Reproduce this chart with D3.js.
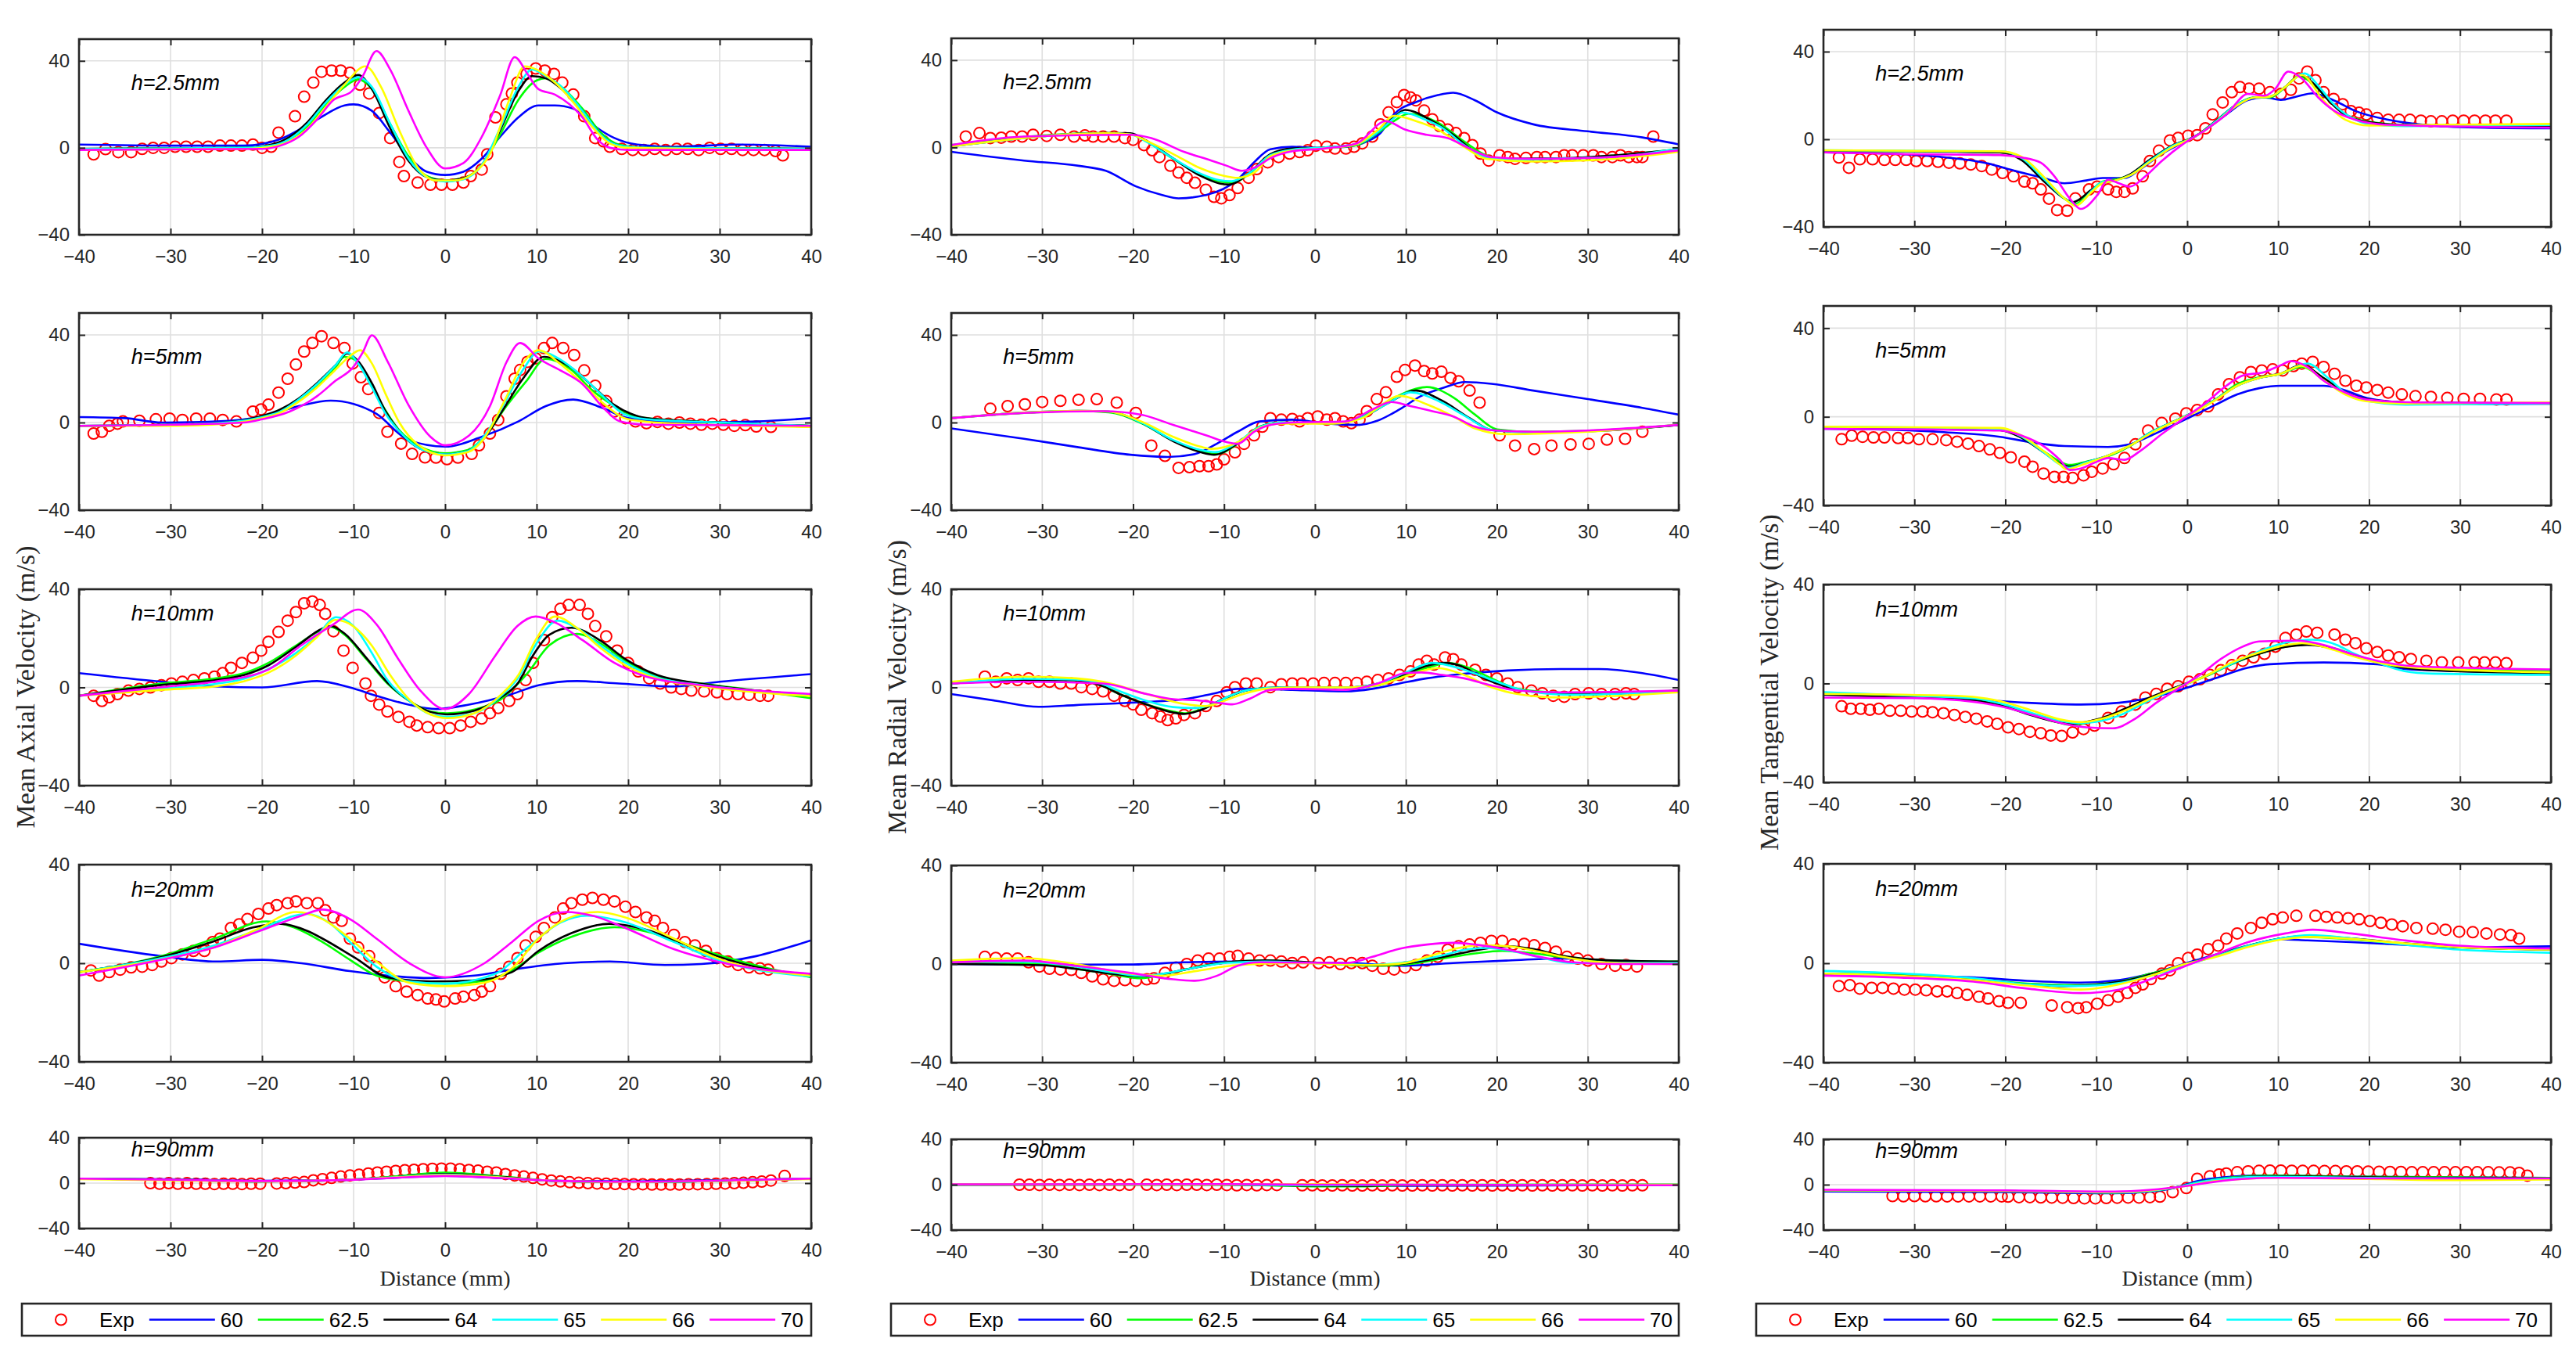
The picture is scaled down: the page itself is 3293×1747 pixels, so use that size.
<!DOCTYPE html>
<html>
<head>
<meta charset="utf-8">
<script src="https://cdn.jsdelivr.net/npm/d3@7"></script>
<style>
  body { margin: 0; background: #fff; }
  svg { display: block; }
</style>
</head>
<body>
<script>
// ---------- labels / ticks ----------
var seriesNames = ['60', '62.5', '64', '65', '66', '70'];
var seriesColors = ['#0000ff', '#00ff00', '#000000', '#00ffff', '#ffff00', '#ff00ff'];
var heightLabels = ['h=2.5mm', 'h=5mm', 'h=10mm', 'h=20mm', 'h=90mm'];
var yTitles = ['Mean Axial Velocity (m/s)', 'Mean Radial Velocity (m/s)', 'Mean Tangential Velocity (m/s)'];
var xTitle = 'Distance (mm)';
var xTicks = [-40, -30, -20, -10, 0, 10, 20, 30, 40];
var yTicks = [-40, 0, 40];
var yMax = [50, 50, 40, 40, 40];

// ---------- Axial ----------
var expAx1 = [[-38.4,-3],[-37.1,-0.6],[-35.7,-2],[-34.3,-2],[-33.1,-0.5],[-31.9,0],[-30.7,0],[-29.5,0.5],[-28.3,0.5],[-27.1,0.5],[-25.9,0.5],[-24.6,1],[-23.4,1],[-22.2,1],[-21,1.5],[-20,0],[-19,0.5],[-18.2,7],[-16.4,14.5],[-15.4,23.5],[-14.4,30],[-13.5,35],[-12.4,35.5],[-11.4,35.5],[-10.4,34.5],[-9.3,29],[-8.3,25],[-7.2,16],[-6,4.5],[-5,-6.5],[-4.5,-13],[-3,-16],[-1.6,-17],[-0.4,-17],[0.8,-17],[2,-16],[2.8,-13],[4,-10],[4.6,-3],[5.5,14],[6.7,20],[7.3,25],[7.9,30],[8.9,34],[9.9,36.5],[10.9,35.5],[11.9,34],[12.8,30],[14,24.5],[15.2,14.5],[16.4,4.5],[17.3,3],[18,0.5],[19.3,-0.5],[20.5,-1],[21.7,-1],[22.9,-0.5],[24.1,-1],[25.3,-0.5],[26.5,-0.5],[27.7,-1],[28.9,0],[30.1,-0.5],[31.3,-0.5],[32.5,-1],[33.7,-1],[34.9,-1],[36.1,-1.5],[36.9,-3.5]];
var simAx1 = [
  [[-40,1.5],[-30,1],[-22,1],[-18,4],[-14,13],[-11,19.5],[-10,20],[-8,17],[-6,7],[-4,-4],[-2,-11],[0,-12.5],[2,-11],[4,-5],[6,5],[8,14],[10.2,19.5],[12,19.5],[14,18],[16,11],[18.5,4.5],[21,1.5],[25,0.5],[32,1.5],[40,0.5]],
  [[-40,-0.5],[-22,0],[-19,1],[-17,4],[-15,10],[-13,20],[-11,28],[-9.5,31.5],[-8,27],[-6,11],[-4,-4],[-2,-13],[0,-15],[2,-14],[4,-8],[6,6],[8,22],[10,31],[11,32],[13,27],[15,18],[17,7],[19,1.5],[22,0],[40,-0.5]],
  [[-40,-0.5],[-22,0],[-19,1.5],[-17,5],[-15,12],[-13,22],[-11,30],[-9.5,33.5],[-8,27],[-6,9],[-4,-6],[-2,-13.5],[0,-15],[2,-14],[4,-8],[6,8],[8,26],[9.5,33],[11,32],[13,26],[15,17],[17,6],[19,1],[22,0],[40,-0.5]],
  [[-40,-0.5],[-22,0],[-19,1],[-17,4],[-15,11],[-13,21],[-11,29],[-9.5,32.5],[-8,28],[-6,11],[-4,-5],[-2,-13.5],[0,-15.5],[2,-14.5],[4,-8],[6,9],[8,28],[9.5,36],[11,33],[13,27],[15,17],[17,6],[19,1],[22,0],[40,-0.5]],
  [[-40,-1],[-22,-0.5],[-19,0.5],[-17,3],[-15,9],[-13,19],[-11,29],[-8.7,37.5],[-7,28],[-5,8],[-3,-9],[-1,-15],[1,-15],[3,-12],[5,-2],[7,22],[8.7,37.5],[10,36],[12,30],[14,21],[16,10],[18,2],[20,0],[40,-1]],
  [[-40,-1],[-20,-0.5],[-18,1],[-16,5],[-14,13],[-12.2,22],[-10.2,26],[-9,33],[-7.5,44.5],[-6,36],[-4,17],[-2,0],[0,-9.5],[2,-7],[4,5],[6,24],[7.6,41.7],[9,34],[10.2,27],[12,24.5],[15,14],[16.7,3.6],[18,0],[20,-1],[40,-1]]
];

var expAx2 = [[-38.4,-5],[-37.5,-4.2],[-36.7,-1.5],[-35.8,-0.5],[-35.2,0.5],[-33.4,0.8],[-31.6,1.5],[-30.1,1.8],[-28.7,1.2],[-27.2,1.8],[-25.7,1.8],[-24.3,1.2],[-22.8,0.5],[-21,5],[-20.1,6],[-19.3,8.2],[-18.2,13.7],[-17.2,20],[-16.3,26.5],[-15.4,32.4],[-14.5,36.3],[-13.5,39.4],[-12.2,36.3],[-11,34],[-10.1,27],[-9.2,20.7],[-8.4,15.3],[-7.2,4.4],[-6.3,-4.2],[-4.8,-9.6],[-3.6,-14.3],[-2.2,-15.9],[-1,-16],[0.2,-16.7],[1.4,-16],[2.9,-14.3],[3.7,-10.4],[4.9,-5],[5.8,1.2],[6.7,12],[7.6,20],[8.2,24],[9,27.7],[9.9,29.3],[10.8,34],[11.7,36.3],[12.9,34],[14.1,30.8],[15.2,23.8],[16.4,16.8],[17.6,9.8],[18.5,5.1],[19.7,2],[20.8,0.5],[22,-0.3],[23.2,0.3],[24.4,-0.5],[25.6,0],[26.8,-0.5],[28,-1],[29.2,-0.5],[30.4,-1],[31.6,-1.5],[32.8,-1.2],[34,-1.8],[35.6,-2]];
var simAx2 = [
  [[-40,2.5],[-35,2],[-31,0],[-25,0.5],[-20,2.8],[-16,7.5],[-12.5,10],[-10,8.5],[-7.5,4],[-4,-8],[0,-11],[4,-6.5],[8,0.5],[11,7.5],[14,10.5],[17,7],[20,2],[24,0.5],[28,0],[34,0.5],[40,2]],
  [[-40,-1.5],[-30,-1],[-24,0],[-20,2.5],[-18,5],[-16,10],[-14,17],[-12,25],[-11,30],[-10,29],[-8.5,21],[-7,9],[-5,-3.5],[-2.7,-11],[0,-14],[2.5,-12.5],[4.3,-6.5],[6.7,7.5],[8.8,18.5],[11,29],[13.8,24],[16,15],[18.5,7.5],[20.3,3.5],[22,2],[30,0],[40,-1.5]],
  [[-40,-1.5],[-30,-1],[-24,0],[-20,3],[-18,6],[-16,11],[-14,18],[-12,26],[-10.7,31.5],[-9.5,28],[-8,18],[-6.5,5],[-5,-4],[-2.7,-12],[0,-14.5],[2.5,-13],[4.3,-7],[6.5,7],[8.5,20],[10.8,30],[13.8,25],[16,17],[18.5,8],[20.3,4],[22,2],[30,0],[40,-1.5]],
  [[-40,-1.5],[-30,-1],[-24,0],[-20,2.5],[-18,5],[-16,10.5],[-14,17.5],[-12,26],[-10.7,32],[-9.5,27],[-8,16],[-6.5,4],[-5,-4],[-2.7,-12],[0,-14.5],[2.5,-13],[4.3,-6],[6.5,9],[8.5,24],[10.3,32.5],[12.5,29],[15,21],[17.5,11],[19.5,4],[22,1.5],[30,0],[40,-1.5]],
  [[-40,-1.5],[-30,-1.5],[-24,-0.5],[-20,2],[-18,4.5],[-16,9.5],[-14,16],[-12,24],[-10.5,30],[-9.3,33],[-8,27],[-6.5,13],[-5,0],[-3,-10],[0,-15],[2.5,-13.5],[4.3,-7],[6.5,10],[8.5,27],[10.2,33],[12.5,27],[15,18],[17.5,8],[20,1.5],[25,-0.5],[40,-2]],
  [[-40,-1.5],[-30,-1],[-22,0],[-20,1.5],[-17,5],[-14,12],[-12,19],[-10,25.5],[-9,32],[-8,39.8],[-6.3,28],[-4,8],[-1.6,-6.5],[0,-10.4],[2.6,-6],[4.9,7.5],[6.7,27.5],[8.2,36.3],[10.2,29.3],[12.6,23.8],[15,17.6],[17.3,6.7],[19.1,0.5],[22,-1],[40,-1.5]]
];

var expAx3 = [[-38.4,-3.4],[-37.5,-5.5],[-36.7,-4],[-35.8,-2.7],[-34.6,-1.3],[-33.4,-0.6],[-32.2,0],[-31,0.9],[-29.9,1.6],[-28.7,2.3],[-27.5,3],[-26.3,3.7],[-25.2,4.4],[-24.3,5.8],[-23.4,8],[-22.2,10],[-21,12.1],[-20.1,15],[-19.3,18.6],[-18.2,22.6],[-17.2,27.2],[-16.3,30.7],[-15.4,34.3],[-14.5,35],[-13.7,33.6],[-13.1,30],[-12.2,22.9],[-11.1,15],[-10.1,8],[-8.7,1.6],[-8.1,-3.4],[-7.2,-7],[-6.3,-9.8],[-5.1,-12],[-3.9,-14],[-3.1,-15.5],[-1.9,-16.2],[-0.7,-16.6],[0.5,-16.6],[1.7,-15.5],[2.8,-14],[4,-12.7],[4.9,-10.5],[5.8,-8.4],[7,-5.5],[7.9,-2.7],[8.8,3],[9.6,10],[10.8,19.3],[11.7,28.6],[12.6,32],[13.5,33.6],[14.7,33.6],[15.6,30],[16.4,25],[17.6,20.8],[18.8,15],[20,10],[21.1,6.5],[22.3,3.7],[23.5,1.6],[24.7,0],[25.8,-0.6],[26.9,-1.3],[28.3,-1.6],[29.7,-2],[30.8,-2.7],[32,-2.7],[33.2,-3],[34.4,-3.4],[35.3,-3.4]];
var simAx3 = [
  [[-40,5.8],[-31,2.3],[-25,0.4],[-20,0],[-14,2.6],[-10.4,0],[-7.5,-3.4],[-4,-7],[-1,-8.8],[2.6,-7],[7.3,-2.7],[10.2,0.9],[14.4,2.6],[19,1.6],[25,0.4],[30,2.3],[40,5.4]],
  [[-40,-3.4],[-31,1.6],[-25,3.7],[-22,5.8],[-19.3,10],[-16.3,17],[-13.4,23.6],[-12.5,24.6],[-11,21.5],[-8.6,11.5],[-6.3,1.6],[-3.9,-5.5],[-1.6,-9.8],[0.2,-10.5],[3.2,-9],[6.1,-4.8],[9,5.8],[11.4,17.2],[14.4,21.8],[17.3,17.2],[19.7,10.8],[23.2,4.4],[28,1.6],[34,-1.3],[40,-4.4]],
  [[-40,-3.4],[-31,1],[-25,3],[-22,5],[-19.3,9],[-16.3,16.5],[-13.4,24],[-12.5,25],[-11,22],[-8.6,12],[-6.3,2],[-3.9,-5.5],[-1.6,-10],[0.2,-11],[3.2,-9.5],[6.1,-4],[8,2],[9.6,13],[11.4,21.5],[13.8,24.3],[17,19],[19.7,11.5],[23.2,5],[28,1.5],[34,-1.3],[40,-3]],
  [[-40,-3.4],[-31,-0.5],[-25,1.5],[-22,3.5],[-19.3,7.5],[-16.3,14],[-14,21],[-11.9,28.6],[-10,25],[-8,14],[-6.3,3],[-3.9,-5.5],[-1.6,-11],[0.2,-12],[3.2,-10.5],[6.1,-3.5],[8,4],[10,18],[12.3,27.2],[14.5,24],[17,17],[19.7,10],[23.2,4],[28,1],[34,-1.5],[40,-3]],
  [[-40,-3.4],[-31,-1],[-25,0.5],[-22,2.5],[-19.3,6],[-16.3,13],[-14,20.5],[-12,27.5],[-10.5,26],[-8,17],[-6,5],[-3.9,-5],[-1.6,-11],[0.2,-12.5],[3.2,-10.5],[6.1,-3],[8,5],[10,20],[12,28.9],[14.5,24],[17,16],[19.7,9],[23.2,3.5],[28,0.5],[34,-2],[40,-3.5]],
  [[-40,-3.4],[-30,0.5],[-25.2,2.3],[-19.3,7.3],[-15.7,17.2],[-12.2,25.7],[-9.5,31.7],[-7.5,25.7],[-5.1,11.5],[-2.7,-1.3],[0,-8.8],[2.6,-2.7],[5.5,13],[7.9,25],[9.9,28.9],[12,26.5],[15,19.3],[18.5,10],[22,4.4],[28,0.9],[40,-2.7]]
];

var expAx4 = [[-38.7,-2.9],[-37.8,-5],[-36.7,-3.6],[-35.5,-2.6],[-34.3,-1.7],[-33.1,-1.4],[-32,-0.7],[-31,0.7],[-29.9,2.1],[-28.7,3.6],[-27.5,5],[-26.3,5],[-25.4,8.6],[-24.6,10],[-23.4,14.3],[-22.5,15.8],[-21.6,17.9],[-20.4,20],[-19.3,22.2],[-18.4,23.6],[-17.2,24.4],[-16.3,25.1],[-15.1,24.4],[-13.9,24.4],[-13.1,21.5],[-12.2,18.6],[-11.3,17.2],[-10.4,10],[-9.5,6.4],[-8.3,2.9],[-7.5,-1.4],[-6.6,-5.7],[-5.4,-9.3],[-4.2,-11.5],[-3,-12.9],[-1.9,-14.3],[-1,-14.7],[-0.1,-15.5],[1.1,-14.3],[2,-13.6],[3.2,-12.9],[4,-11.5],[4.9,-9.3],[6.1,-4.3],[7,-1.4],[7.9,2.1],[8.8,7.2],[9.9,10.7],[10.8,14.3],[12,18.6],[12.9,22.2],[13.8,24.4],[15,25.8],[16.1,26.5],[17.3,25.8],[18.5,25.1],[19.7,22.9],[20.8,20.8],[22,18.6],[22.9,17.2],[23.8,14.3],[25,11.5],[26.2,8.6],[27.3,7.2],[28.5,5],[29.7,2.1],[30.9,0.7],[32,-0.7],[33.2,-1.7],[34.4,-2.1],[35.3,-2.6]];
var simAx4 = [
  [[-40,7.9],[-31,2.9],[-25,0.7],[-20,1.4],[-15.7,0],[-10.4,-3.2],[-6.3,-5],[-1.6,-6],[3.2,-5],[7.3,-2.6],[13,0],[18,0.7],[24,-0.7],[28,-0.3],[34,2.9],[40,9.3]],
  [[-40,-3.6],[-31,2.9],[-25.2,10],[-19.5,17],[-16.5,14.5],[-13.4,8.6],[-10.4,1.4],[-7.5,-5],[-3.9,-7.4],[0,-8.3],[4.3,-7.2],[7.3,-2.9],[10.2,4.3],[13.8,10.7],[18.5,14.6],[22,12.9],[25.6,8.6],[29.7,3.6],[33.8,-0.7],[40,-5.7]],
  [[-40,-3.6],[-31,2.5],[-25.2,9],[-21,14.5],[-18,16],[-15,13],[-13.4,10],[-9.8,2.1],[-6.3,-5.7],[-1.6,-7.4],[3,-7],[7.3,-3.6],[10.2,5],[13.8,12.2],[17.9,16],[22,13.6],[25.6,8.6],[29.7,2.9],[33.8,-1.4],[40,-5]],
  [[-40,-3.6],[-31,2.1],[-25.2,7.2],[-20.4,13.6],[-15.1,20],[-12.5,16],[-10.4,8.6],[-7.5,-1.4],[-3.9,-7.4],[0,-8.3],[5.5,-4.3],[9,6.4],[12.6,16.5],[15.5,19.3],[19.1,17.2],[25,8.6],[29.7,1.4],[40,-5.4]],
  [[-40,-3.6],[-31,1.5],[-25.2,6.5],[-20.4,14],[-16.3,20.8],[-13.4,17.9],[-10.4,10],[-7.5,0.7],[-3.9,-7.9],[0,-9.3],[4.3,-7.9],[7.3,-2.1],[10.2,10],[13.2,17.9],[16.7,20.8],[19.7,18.6],[25,10],[29.7,2.1],[40,-5]],
  [[-40,-5],[-31,1.4],[-25.2,6.4],[-20.4,12.9],[-15.7,19.3],[-13.4,21.8],[-10.4,17.9],[-7.5,10],[-3.9,0],[0,-5.7],[4.3,0],[7.3,8.6],[10.2,17.2],[13.2,20.8],[16.1,19.3],[19.7,14.3],[25,5.7],[29.7,0.7],[40,-4.3]]
];

var expAx5 = [[-32.2,0],[-31.2,-0.5],[-30.2,0],[-29.2,-0.5],[-28.2,0],[-27.2,-0.5],[-26.2,-0.5],[-25.2,-0.8],[-24.2,-0.5],[-23.2,-0.5],[-22.2,-0.8],[-21.2,-0.5],[-20.2,-0.5],[-18.4,-0.3],[-17.4,0],[-16.4,0.5],[-15.4,1],[-14.4,2.5],[-13.4,3.5],[-12.4,4.6],[-11.4,5.8],[-10.4,6.8],[-9.4,7.5],[-8.4,8.5],[-7.4,9.3],[-6.4,10],[-5.4,10.7],[-4.4,11.3],[-3.4,11.8],[-2.4,12.3],[-1.4,12.6],[-0.4,12.8],[0.6,12.8],[1.6,12.3],[2.6,11.6],[3.6,11],[4.6,10],[5.6,9.3],[6.6,8],[7.6,6.8],[8.6,5.8],[9.6,4.6],[10.6,3.3],[11.6,2.3],[12.6,1.5],[13.6,0.8],[14.6,0.3],[15.6,0],[16.6,-0.3],[17.6,-0.5],[18.6,-0.7],[19.6,-0.8],[20.6,-1],[21.6,-1],[22.6,-1.2],[23.6,-1.2],[24.6,-1.2],[25.6,-1.2],[26.6,-1],[27.6,-1],[28.6,-0.8],[29.6,-0.5],[30.6,-0.3],[31.6,0],[32.6,0.3],[33.6,0.8],[34.6,1.3],[35.6,2.3],[37.1,6.3]];
var simAx5 = [
  [[-40,4],[-30,3.5],[-20,2],[-12,2.5],[-6,4.5],[0,6.5],[6,4.5],[12,2],[20,1.5],[30,2.5],[40,3.8]],
  [[-40,4],[-30,3],[-20,1.5],[-12,2.5],[-6,5.5],[0,9.3],[6,6],[12,2],[20,1],[30,2],[40,4]],
  [[-40,4],[-30,3],[-20,1.5],[-12,2.5],[-6,5],[0,8],[6,5.5],[12,2],[20,1],[30,2],[40,4]],
  [[-40,4],[-30,3],[-20,1.5],[-12,2.5],[-6,5],[0,7.5],[6,5],[12,2],[20,1],[30,2],[40,4]],
  [[-40,3.5],[-30,2.5],[-20,1.5],[-12,2.5],[-6,4.8],[0,7],[6,5],[12,2],[20,1],[30,2],[40,3.5]],
  [[-40,4],[-30,3],[-20,1.8],[-12,2.5],[-6,4.5],[0,6.3],[6,4.5],[12,2],[20,1.2],[30,2.2],[40,4]]
];

// ---------- Radial ----------
var expRa1 = [[-38.4,5],[-36.9,6.6],[-35.7,4.3],[-34.5,4.5],[-33.4,5],[-32.2,5],[-31,5.8],[-29.5,5.3],[-28,5.8],[-26.5,5],[-25.3,5.5],[-24.4,5],[-23.3,5],[-22.1,5],[-20.9,4.3],[-20,3.5],[-18.8,1.1],[-17.9,-1.3],[-17.1,-4.4],[-15.9,-8.4],[-15,-11.5],[-14.1,-13.9],[-13.2,-16.2],[-12,-19.4],[-11.1,-22.6],[-10.3,-23.3],[-9.4,-21.8],[-8.5,-18.6],[-7.3,-13.9],[-6.4,-9.9],[-5.2,-6.8],[-4,-4.4],[-2.8,-2.8],[-1.7,-2.1],[-0.8,-1.3],[0.1,0.8],[1.3,0.3],[2.2,-0.5],[3.4,-0.5],[4.3,0.3],[5.2,1.9],[6.3,5],[7.2,10.6],[8.1,16.1],[9,20.8],[9.8,24],[10.5,22.9],[11.1,21.6],[12,16.9],[12.9,12.9],[13.7,9.8],[14.6,8.2],[15.5,6.6],[16.4,4.3],[17.3,1.1],[18.2,-2.8],[19.1,-6],[20.3,-3.6],[21.2,-4.4],[22,-5.2],[23.2,-4.8],[24.4,-4.4],[25.3,-4.4],[26.5,-4.4],[27.4,-3.6],[28.3,-3.6],[29.5,-3.6],[30.6,-3.6],[31.5,-4.4],[32.7,-4.4],[33.6,-3.6],[34.5,-4.4],[35.4,-4.4],[36,-4.4],[37.2,5]];
var simRa1 = [
  [[-40,-2],[-32,-6],[-26,-8.4],[-23,-10.7],[-19.7,-17.8],[-16.8,-21.8],[-15,-23.3],[-12,-21.8],[-8.5,-14.7],[-6.7,-6.8],[-4.9,-0.8],[-2.5,0.3],[0.4,-0.2],[3.4,0.3],[5.7,2.7],[7.2,6.6],[8.7,15.3],[11.1,20.8],[13.5,24],[15.2,25.1],[17.6,21.6],[20,16.1],[24,10.6],[30,7.4],[36,4.6],[40,1.4]],
  [[-40,1.1],[-35,3.5],[-29,5.8],[-23,6.6],[-20.3,6.2],[-18.5,2.7],[-15.6,-5.2],[-12.6,-12.3],[-10.5,-15.5],[-9,-16.2],[-7.3,-12.3],[-4.9,-3.6],[-2.5,-0.8],[1,-0.2],[4.6,1.1],[6.9,6.6],[8.7,12.1],[10.3,15.5],[13.5,11.4],[16.4,2.7],[18.8,-3.6],[21.2,-5.5],[27,-5.2],[33,-3.6],[40,-0.8]],
  [[-40,0.5],[-35,3],[-29,5.5],[-23,6.6],[-20.3,6.5],[-18.5,3],[-15.6,-5],[-12.6,-13],[-10.5,-16.5],[-9.5,-17],[-7.3,-12],[-4.9,-3],[-2.5,-0.5],[1,0],[4.6,1.5],[6.9,7],[8.7,14],[9.9,17.2],[12.9,12.1],[15.2,5.8],[17.6,-2],[20,-5.2],[27,-5],[33,-3.6],[40,-0.8]],
  [[-40,0.5],[-35,3],[-29,5.5],[-23,6.5],[-20.3,6],[-18.5,2.5],[-15.6,-5],[-12.6,-12],[-10.5,-15],[-9.2,-15.5],[-7.3,-12],[-4.9,-3.5],[-2.5,-1],[1,0],[4.6,1.5],[6.9,7],[8.7,13.5],[9.6,16],[12,13],[14,9],[16.4,1.1],[18.8,-4.4],[22,-5.5],[28,-5],[34,-4],[40,-0.5]],
  [[-40,0.5],[-35,3],[-29,5.5],[-23,6.5],[-20.3,6],[-18.5,3],[-15.6,-3],[-12.6,-9.5],[-10,-13],[-8.5,-13.9],[-6.5,-11],[-4.9,-4],[-2.5,-1.5],[1,-0.5],[4.6,1.5],[6.9,8],[8.7,14.5],[11.1,12.1],[13.5,8.2],[16.4,0.3],[18.8,-5.2],[24,-6.5],[33,-5.2],[40,-2]],
  [[-40,1.1],[-32,5],[-20.3,5.8],[-18,4.3],[-14.4,-2],[-11.4,-6],[-9.7,-8.4],[-8,-10.7],[-6.5,-9],[-4.9,-4.9],[-2.5,-1.7],[1,-0.5],[4.6,1.9],[7.8,12.1],[9.9,8.2],[12.3,5.8],[14.6,4.3],[17,-0.5],[19.4,-4.4],[24,-5.2],[32,-4.5],[40,-1.3]]
];

var expRa2 = [[-35.7,6.3],[-33.8,7.5],[-31.9,8.3],[-30,9.4],[-28,9.9],[-26,10.4],[-24,10.7],[-21.8,9.1],[-19.7,4.4],[-18,-10.5],[-16.5,-15.2],[-15,-20.7],[-13.8,-20.4],[-12.7,-19.9],[-11.7,-19.9],[-10.8,-19.1],[-10,-16.8],[-8.8,-13.6],[-7.8,-9.7],[-6.7,-5.8],[-5.8,-1.9],[-4.9,2],[-3.7,1.3],[-2.5,1.6],[-1.7,0.5],[-0.8,2],[0.3,2.8],[1.3,1.3],[2.2,2],[3.1,0.5],[4,-0.3],[4.9,1.3],[5.7,5.2],[6.8,10.7],[7.8,13.8],[9,20.9],[9.9,24],[11,26],[12,23.5],[12.9,22.4],[13.9,23.2],[14.9,20.4],[15.8,18.8],[17,14.6],[18.1,9.1],[20.3,-5.8],[22,-10.5],[24.1,-12.1],[26,-10.5],[28.1,-10],[30.1,-9.7],[32.1,-7.8],[34.1,-7.4],[36,-4.2]];
var simRa2 = [
  [[-40,-2.7],[-32,-7.4],[-26,-11.3],[-20.3,-14.7],[-16.2,-15.7],[-13.2,-14.4],[-10.8,-9.7],[-8.5,-4.2],[-6.1,0.5],[-2.5,1.3],[1,-0.3],[4.6,-1.1],[6.9,0.9],[9.3,6],[11.7,12.2],[14,15.7],[16.5,18.5],[19.4,17.7],[24,14.6],[30,10.7],[36,6.7],[40,3.6]],
  [[-40,2],[-32,4.4],[-26,5.2],[-22.7,4.7],[-19.1,-0.3],[-15.6,-8.2],[-12.6,-12.9],[-10.8,-14.4],[-8.5,-9.7],[-6.1,-1.9],[-3.7,0],[2,-0.3],[5.2,2.8],[8.1,9.9],[11.1,15.4],[12.3,16.2],[15.2,11.5],[17.6,3.6],[20,-3.1],[24,-4.2],[30,-3.8],[40,-1.1]],
  [[-40,2],[-32,4.5],[-26,5.3],[-22.7,5],[-19.1,0],[-15.6,-8.5],[-12.6,-13.5],[-11.1,-14.7],[-8.5,-9.5],[-6.1,-2],[-3.7,0],[2,-0.3],[5.2,2.5],[8.1,9],[11.1,14.6],[14,9.9],[17,2],[19.5,-3.5],[24,-4.5],[30,-4],[40,-1.1]],
  [[-40,2],[-32,4.5],[-26,5.3],[-22.7,5],[-19.1,0],[-15.6,-8],[-12.6,-12.5],[-11,-13.5],[-8.5,-9],[-6.1,-2],[-3.7,0],[2,-0.3],[5.2,2.5],[8.1,9],[10.5,13.8],[13.5,10],[16.5,3],[19.5,-3.5],[24,-4.5],[30,-4],[40,-1]],
  [[-40,2],[-32,4.5],[-26,5.3],[-22.7,5],[-19.1,0.5],[-15.6,-6.5],[-12.6,-11],[-11.4,-12],[-8.5,-9],[-6.1,-2.5],[-3.7,-0.5],[2,-0.5],[5.2,2],[7,7],[9.3,12.2],[12.3,8.3],[15.2,2.8],[17.6,-2.7],[21,-5.3],[30,-4.2],[40,-1]],
  [[-40,2],[-32,4.4],[-23.3,5.2],[-19.1,3.6],[-15.6,-1.1],[-12,-5.8],[-9.7,-8.9],[-8.5,-9.7],[-6.7,-4.2],[-4.9,-1.1],[-2.5,0],[3.4,0.5],[6.3,6],[8.4,9.4],[10.5,7.5],[12.9,5.2],[15.2,2.8],[17.6,-1.9],[19.4,-3.5],[24,-4.2],[40,-1.1]]
];

var expRa3 = [[-36.3,4.4],[-35.1,2.3],[-33.9,3.7],[-32.7,3],[-31.5,3.7],[-30.4,2.3],[-29.2,2.3],[-28,1.6],[-26.8,1.6],[-25.7,0.1],[-24.5,-0.6],[-23.3,-1.6],[-22.1,-3.4],[-20.9,-5.5],[-20,-6.9],[-19.1,-9.1],[-17.9,-10.5],[-17,-11.9],[-16.2,-13.3],[-15.3,-12.6],[-14.4,-11.2],[-13.2,-10.5],[-12,-7.6],[-10.8,-5.5],[-9.7,-2],[-8.8,0.1],[-7.6,1.6],[-6.4,1.6],[-4.9,0.1],[-3.7,1.3],[-2.5,1.6],[-1.4,1.6],[-0.2,1.6],[1,1.8],[2.2,1.8],[3.4,1.8],[4.6,1.8],[5.7,2.3],[6.9,3],[8.1,3.7],[9.3,5.1],[10.5,6.5],[11.4,9.3],[12.3,10.8],[13.1,9.3],[14.3,12.2],[15.2,11.5],[16.1,9.3],[17.6,7.2],[18.8,5.1],[20,3.7],[21.2,1.6],[22.3,0.1],[23.8,-1.3],[25,-2.4],[26.2,-3.4],[27.4,-3.8],[28.6,-2.7],[30.1,-2.4],[31.5,-2.7],[33,-2.7],[34.2,-2.4],[35.1,-2.7]];
var simRa3 = [
  [[-40,-2.7],[-35,-5.5],[-30.4,-7.9],[-26.3,-7.2],[-20.3,-6.2],[-14.4,-4.8],[-11.4,-2.7],[-8.5,-0.6],[-5.5,-0.6],[-2.5,-1],[3.4,-1.6],[6.3,-0.6],[9.3,1.6],[12.3,3.7],[15.2,5.1],[21.2,6.9],[27,7.5],[31.2,7.5],[36,5.8],[40,3]],
  [[-40,1.6],[-32,3],[-26.5,3],[-23.5,0.8],[-21.5,-2.7],[-18.5,-6.9],[-15.6,-9.8],[-14.4,-10.5],[-12.6,-9.1],[-9.7,-4.1],[-7.3,-1],[-3.7,0],[3.4,0],[6.9,0.8],[9.9,5.1],[12.9,8.6],[14.6,10],[17,7.9],[19.4,3.7],[22.3,-0.6],[25.9,-2],[30,-2.4],[40,-1.3]],
  [[-40,1.6],[-32,3],[-26.5,3],[-23.5,0.8],[-21.5,-2.7],[-18.5,-7],[-15.6,-10.2],[-14.4,-10.8],[-12.6,-9.3],[-9.7,-4],[-7.3,-1],[-3.7,0],[3.4,0],[6.9,1.5],[9.9,5.5],[12.5,9],[14.3,10],[16.5,8],[18.2,4.4],[21.2,0.1],[24.7,-2],[30,-2.7],[40,-1.3]],
  [[-40,1.6],[-32,3.5],[-26.5,3.2],[-23.5,1.5],[-21.5,-1.5],[-18.5,-5.5],[-15.6,-8],[-13.2,-8.4],[-11,-6.5],[-9.7,-4],[-7.3,-1],[-3.7,0],[3.4,0],[6.9,1.5],[9.9,6],[12.9,10],[16.4,7.2],[20,2.3],[23,-1.3],[28,-3],[40,-1.5]],
  [[-40,2.3],[-32,4.4],[-26.3,3.7],[-23.3,2.3],[-18.5,-2.7],[-14.4,-6.7],[-12,-7.6],[-8.5,-3.4],[-5.5,-0.6],[-2,0],[4,0],[7,1],[9.3,3.7],[12.3,7.2],[13.5,7.9],[16.4,5.1],[19.4,0.1],[22.3,-2.7],[27,-4.1],[40,-2]],
  [[-40,1.6],[-32,2.3],[-23.3,1.6],[-18.5,-2.7],[-15.6,-4.8],[-13.2,-5.2],[-10.8,-6.2],[-9.1,-6.9],[-7.3,-4.8],[-4.9,-1],[-2.5,-0.6],[3.4,-1],[6.9,1.6],[9.9,5.8],[11.7,6.1],[14,5.1],[16.4,3.7],[19.4,0.8],[22.3,-1.3],[27,-2],[40,-1.3]]
];

var expRa4 = [[-36.3,2.9],[-35.1,2.5],[-33.9,2.2],[-32.7,2.2],[-31.5,0.7],[-30.3,-1],[-29.2,-1.9],[-28,-2.2],[-26.8,-2.4],[-25.7,-3.6],[-24.5,-5],[-23.3,-6.2],[-22.1,-6.8],[-20.9,-6.5],[-19.7,-6.8],[-18.5,-6.2],[-17.7,-5.8],[-16.5,-3.6],[-15.3,-1.4],[-14.1,0],[-12.9,1.4],[-11.7,2.2],[-10.5,2.2],[-9.4,2.9],[-8.5,3.3],[-7.3,2.2],[-6.1,1.4],[-4.9,1.4],[-3.7,1],[-2.5,0.4],[-1.3,0.7],[0.4,0.4],[1.6,0.7],[2.8,0],[4,0.4],[5.2,0.4],[6.3,-0.7],[7.5,-1.9],[8.7,-2.2],[9.9,-1.4],[11.1,-0.4],[12.3,1.4],[13.5,2.9],[14.6,5.8],[15.8,7.2],[17,7.9],[18.2,8.6],[19.4,9.4],[20.6,9.4],[21.8,7.9],[23,8.2],[24.1,7.6],[25.3,6.5],[26.5,5],[27.7,2.9],[28.9,2.2],[30,1.4],[31.5,0],[33,-0.7],[34.2,-0.4],[35.4,-1]];
var simRa4 = [
  [[-40,0],[-30,-0.3],[-20,-0.2],[-14.4,0.7],[-8.5,1],[0,0.5],[4,0.4],[9.3,-0.7],[15.2,0.4],[21,1.4],[27,2.2],[33,1.4],[40,0.7]],
  [[-40,0.7],[-30,0],[-26.3,-1.9],[-22.1,-4.3],[-19.1,-5.8],[-16.8,-4.3],[-13.2,-1.4],[-9.7,0.7],[-5.5,1.4],[0.4,0.4],[6.3,-0.7],[10.5,0],[14,2.2],[17.6,4.3],[20.6,5.3],[24.1,4.3],[27,2.9],[33,1.4],[40,1]],
  [[-40,0],[-30,-0.5],[-26.3,-2],[-22.1,-4],[-19.1,-5],[-16.8,-4],[-13.2,-1.5],[-9.7,0.7],[-5.5,1.5],[0.4,0.5],[6.3,-0.5],[10.5,0.5],[14,2.8],[17.6,5.5],[21.2,7.2],[24.1,6],[27,3.5],[33,1.4],[40,1]],
  [[-40,1],[-32,1],[-26.3,-1],[-22.1,-3.5],[-19.1,-4.8],[-16.8,-4],[-13.2,-1.5],[-9.7,0.5],[-5.5,1],[0.4,0.3],[6.3,-0.3],[10.5,1],[14,3.5],[16.5,5.8],[18.8,6.5],[22,5],[25,2.5],[28.3,0.4],[33,0.5],[40,0.5]],
  [[-40,1.4],[-32,2.4],[-26.3,0],[-22.1,-2.9],[-19.1,-4.3],[-16.8,-4.8],[-13.2,-2.9],[-8.5,-0.4],[-2.5,0.4],[6.3,-0.4],[10,0.5],[12.3,2.9],[15.8,6.5],[18.2,7.6],[21.2,7.2],[24.7,5],[28.3,2.2],[33,0.4],[40,0]],
  [[-40,0.7],[-32,1.4],[-26.3,-0.7],[-20.3,-3.6],[-15.6,-6.2],[-13.2,-6.8],[-10.8,-4.8],[-8.5,-0.7],[-6.1,0.7],[3.4,0.4],[6.3,2.9],[9.3,6.2],[12.3,7.9],[15.2,8.6],[17.6,7.9],[21.2,5.8],[24.7,2.9],[28.3,0.7],[33,0],[40,0]]
];

var expRa5 = [[-32.5,0],[-31.4,0],[-30.3,-0.3],[-29.2,0],[-28.1,-0.3],[-27,0],[-25.9,-0.3],[-24.8,0],[-23.7,-0.3],[-22.6,0],[-21.5,-0.3],[-20.4,0],[-18.5,0],[-17.4,-0.3],[-16.3,0],[-15.2,-0.3],[-14.1,0],[-13,0],[-11.9,-0.3],[-10.8,0],[-9.7,-0.3],[-8.6,-0.5],[-7.5,-0.3],[-6.4,-0.5],[-5.3,-0.3],[-4.2,-0.3],[-1.4,-0.5],[-0.3,-0.5],[0.8,-0.7],[1.9,-0.7],[3,-0.5],[4.1,-0.7],[5.2,-0.7],[6.3,-0.5],[7.4,-0.7],[8.5,-0.5],[9.6,-0.7],[10.7,-0.7],[11.8,-0.5],[12.9,-0.7],[14,-0.5],[15.1,-0.7],[16.2,-0.5],[17.3,-0.7],[18.4,-0.5],[19.5,-0.7],[20.6,-0.5],[21.7,-0.7],[22.8,-0.5],[23.9,-0.7],[25,-0.5],[26.1,-0.7],[27.2,-0.5],[28.3,-0.5],[29.4,-0.7],[30.5,-0.5],[31.6,-0.7],[32.7,-0.5],[33.8,-0.7],[34.9,-0.5],[36,-0.5]];
var simRa5 = [
  [[-40,0],[-20,0.3],[-5,0],[0,-0.5],[10,-1],[20,-0.8],[30,-0.5],[40,-0.3]],
  [[-40,0],[-10,0],[-3,-1],[0,-1.5],[5,-1.5],[10,-0.5],[20,0],[40,0]],
  [[-40,0],[-10,0],[0,-0.8],[5,-1],[10,-0.3],[40,0]],
  [[-40,0.3],[-10,0],[0,-0.5],[10,0],[40,0]],
  [[-40,0.3],[-10,0.2],[0,0.5],[10,0],[40,0]],
  [[-40,0.3],[-10,0.5],[0,0],[10,0],[40,-0.5]]
];

// ---------- Tangential ----------
var expTa1 = [[-38.3,-8.3],[-37.2,-13],[-36,-9.1],[-34.6,-9.1],[-33.3,-9.4],[-32.1,-9.4],[-30.9,-9.4],[-29.8,-9.9],[-28.6,-9.9],[-27.4,-10.3],[-26.2,-10.7],[-25,-11],[-23.8,-11.5],[-22.6,-12.2],[-21.5,-13.8],[-20.3,-15.4],[-19.1,-16.9],[-17.9,-19.3],[-17,-20.1],[-16.1,-22.9],[-15.2,-27.1],[-14.3,-32.3],[-13.2,-32.6],[-12.3,-27],[-10.8,-22.9],[-9.9,-21.6],[-8.7,-22.9],[-7.8,-24],[-6.9,-24],[-6,-22.4],[-4.9,-16.9],[-4.1,-9.9],[-3.1,-5.2],[-1.9,-0.5],[-1,0.6],[0.1,1.6],[1.1,1.9],[2,5],[2.8,11.3],[3.9,16.8],[4.9,21.5],[5.8,23.8],[6.8,23.1],[7.9,23.1],[9.1,21.5],[10.3,20.7],[11.4,22.6],[12.3,27.8],[13.2,30.9],[14.1,27],[15,21.5],[16.1,18.4],[17.1,16],[18,12.9],[18.9,12.1],[19.7,11.3],[20.9,9.7],[22.1,8.9],[23.3,8.9],[24.5,8.9],[25.7,8.5],[26.8,8.2],[28,8.2],[29.2,8.5],[30.4,8.5],[31.6,8.5],[32.8,8.5],[33.9,8.5],[35.1,8.5]];
var simTa1 = [
  [[-40,-6],[-32,-6.7],[-26.5,-8.3],[-22.3,-10.7],[-18.8,-14.6],[-15.8,-17.7],[-13.5,-20.1],[-11.1,-18.8],[-9.3,-17.7],[-6.9,-17.7],[-5.2,-13.8],[-2.8,-6.7],[-0.4,-1.3],[2,4.2],[4.3,11.3],[6.7,17.9],[8.5,19.1],[10.3,18],[12,19.5],[13.8,21],[16.2,17.6],[18.5,12.9],[22.1,8.9],[26.8,6.3],[32.7,5.3],[40,5]],
  [[-40,-5.2],[-20.6,-6],[-18.2,-9.1],[-15.8,-18.5],[-13.5,-27.1],[-12.3,-29.5],[-10.5,-23.2],[-9.3,-19.3],[-8.1,-18.5],[-6.3,-16.2],[-4,-9.1],[-1.6,-2.8],[0.8,1.1],[3.1,8.2],[5.5,16],[7.3,19.1],[9.1,19.1],[10.8,23.8],[12.3,28.9],[13.8,25.4],[15.6,17.6],[17.4,11.3],[19.7,8.2],[23.9,6.6],[40,5.8]],
  [[-40,-5.2],[-20.6,-6],[-18.2,-9.5],[-15.8,-19],[-13.5,-27],[-12.6,-28.7],[-10.5,-23],[-9.3,-20],[-8.1,-19],[-6.3,-16],[-4,-9],[-1.6,-2.8],[0.8,1.1],[3.1,8.2],[5.5,16],[7.3,19],[9.1,19.5],[10.8,24],[12.5,29.3],[14,25],[15.6,17.5],[17.4,11],[19.7,8],[24,6.5],[40,6]],
  [[-40,-5],[-20.6,-5.5],[-18.2,-8.5],[-15.8,-18],[-13.5,-27],[-12.2,-30],[-10.5,-23.5],[-9.3,-19.5],[-8.1,-19],[-6.3,-16.5],[-4,-9.5],[-1.6,-3],[0.8,1],[3.1,8],[5.5,16],[7.3,19],[9.1,19.5],[10.8,24],[12.9,30.1],[14.5,24],[16,16.5],[18,10],[20,7],[24,6],[40,6.5]],
  [[-40,-5],[-20.6,-5.5],[-18.2,-8],[-15.8,-17],[-13.5,-27],[-12.3,-30.3],[-10.5,-24],[-9.3,-20],[-8.1,-19],[-6.3,-16.5],[-4,-10],[-1.6,-3.5],[0.8,1],[3.1,7.5],[5.5,15.5],[7.3,19],[9.1,19.5],[10.8,24],[12.6,29.3],[15,17.6],[17.4,8.9],[20,6.3],[25,6.5],[40,7]],
  [[-40,-6],[-32,-6.7],[-20.6,-7.2],[-18.2,-8.3],[-16.1,-10.7],[-14.6,-16.9],[-12.9,-27.1],[-11.7,-31.8],[-9.9,-25.6],[-8.7,-18.5],[-7.5,-20.1],[-6.3,-21.6],[-4.6,-16.9],[-2.8,-9.9],[-0.4,-2],[2,4.2],[4.3,11.3],[6.7,20.7],[8.5,19.9],[9.7,23.1],[11.1,30.9],[12.6,27.8],[14.4,19.1],[16.2,12.9],[18.5,8.9],[22,6.6],[40,5.3]]
];

var expTa2 = [[-38,-10.1],[-36.9,-8.5],[-35.7,-9],[-34.5,-9.3],[-33.3,-9.3],[-31.8,-9.6],[-30.7,-9.6],[-29.5,-10.1],[-28,-10.1],[-26.5,-10.5],[-25.3,-11.2],[-24.1,-12.1],[-22.9,-13.2],[-21.7,-14.7],[-20.6,-16.3],[-19.4,-18.3],[-17.9,-20.2],[-17,-22.5],[-15.8,-25.6],[-14.6,-27.1],[-13.6,-27.1],[-12.6,-27.6],[-11.4,-26.4],[-10.5,-24.8],[-9.3,-23.3],[-8.1,-21.4],[-6.9,-18.6],[-5.7,-12.4],[-4.3,-6.2],[-2.8,-2.8],[-1.3,-0.8],[-0.1,1.6],[1.1,3.1],[2.3,4.7],[3.4,10.1],[4.6,14.7],[5.8,17.8],[7,20.2],[8.2,20.9],[9.4,21.4],[10.5,20.9],[11.7,22.9],[12.6,24],[13.8,24.8],[15,22.5],[16.2,19.4],[17.4,16.3],[18.6,14],[19.7,13.2],[20.9,12.1],[22.1,10.9],[23.6,10.1],[25.1,9.3],[26.8,9],[28.6,8.5],[30.4,8.1],[32.2,8.1],[34,7.8],[35.1,7.8]];
var simTa2 = [
  [[-40,-5.4],[-32,-5.9],[-26.5,-7],[-20.6,-9],[-17,-11.6],[-13.5,-13.2],[-8.7,-13.6],[-6.3,-12.4],[-4,-8.5],[-1.6,-3.9],[0.8,0.8],[3.1,5.4],[5.5,10.1],[7.9,12.9],[10.3,14],[15,14],[16.8,12.7],[19.7,8.5],[23.9,6.5],[32.8,5.7],[40,5.9]],
  [[-40,-4.7],[-20.6,-5.9],[-18.2,-9.3],[-15.8,-15.5],[-14,-20.2],[-12.9,-21.7],[-11.1,-20.2],[-8.7,-17.8],[-6.3,-13.2],[-4,-7],[-1.6,-2.3],[0.8,2.3],[3.1,7.8],[5.5,14.7],[7.9,17.8],[10.3,19.4],[12.6,22.5],[15,17.1],[17.4,10.9],[19.7,7.8],[23.9,6.5],[40,5.9]],
  [[-40,-5],[-20.6,-6],[-18.2,-9.5],[-15.8,-16],[-14,-21],[-12.9,-22.5],[-11.1,-20.5],[-8.7,-17.5],[-6.3,-13],[-4,-7],[-1.6,-2.3],[0.8,2.3],[3.1,7.8],[5.5,14],[7.9,17.5],[10.3,19.5],[12.6,23.3],[15,17.5],[17.4,11],[19.7,8],[24,6.5],[40,6]],
  [[-40,-4.5],[-20.6,-5.5],[-18.2,-9],[-15.8,-16],[-14,-21.5],[-13,-23],[-11.1,-20.5],[-8.7,-17.5],[-6.3,-13],[-4,-7],[-1.6,-2.3],[0.8,2.3],[3.1,7.8],[5.5,14],[7.9,17.5],[10.3,19.5],[13.2,24],[15.5,17.5],[17.5,10.5],[20,7],[24,5.5],[40,6]],
  [[-40,-4.5],[-20.6,-5],[-18.2,-8.5],[-15.8,-15.5],[-14,-21.5],[-13.3,-23.6],[-11.1,-21],[-8.7,-17.5],[-6.3,-13],[-4,-7.5],[-1.6,-2.5],[0.8,2],[3.1,7.5],[5.5,14],[7.9,17.5],[10.3,19.5],[12.6,23],[15,16.5],[17.4,10],[19.7,7],[24,6],[40,6.5]],
  [[-40,-5.4],[-20.6,-6.2],[-18.2,-8.5],[-15.8,-13.2],[-14,-19.4],[-12.9,-24],[-11.7,-23.3],[-9.9,-20.2],[-8.7,-18.6],[-6.9,-19.4],[-5.2,-15.5],[-2.8,-7.8],[-0.4,-0.8],[2,6.2],[4.3,14],[6.1,18.6],[8.5,20.2],[10.3,23.3],[11.4,25.1],[13.2,22.5],[15,16.3],[17.4,10.9],[19.7,7.8],[25,6.5],[40,6.2]]
];

var expTa3 = [[-38,-9.2],[-37,-10.2],[-35.9,-10.2],[-34.9,-10.6],[-33.9,-10.2],[-32.7,-11],[-31.5,-11],[-30.3,-11.3],[-29.1,-11.3],[-28,-11.6],[-26.8,-12],[-25.6,-12.7],[-24.4,-13.5],[-23.2,-14.2],[-22,-15.3],[-20.9,-16.3],[-19.7,-17.7],[-18.5,-18.4],[-17.3,-19.5],[-16.1,-20.1],[-15,-21],[-13.8,-21.2],[-12.6,-19.8],[-11.4,-18.4],[-10.2,-17],[-8.7,-13.9],[-7.2,-11.3],[-5.7,-8.5],[-4.6,-5.7],[-3.4,-4.2],[-2.2,-2.1],[-1,-1.1],[0.2,0.7],[1.4,1.7],[2.5,3.5],[3.7,5.4],[4.9,7.4],[6.1,9.2],[7.3,10.6],[8.5,12],[9.7,14.9],[10.8,18.4],[12,19.8],[13.1,21],[14.3,20.5],[16.2,19.8],[17.4,17.7],[18.5,16.3],[19.7,14.2],[20.9,12.7],[22.1,11.3],[23.3,10.6],[24.6,9.9],[26.3,9.2],[28,8.5],[29.8,8.5],[31.6,8.5],[32.7,8.5],[33.9,8.5],[35.1,8.2]];
var simTa3 = [
  [[-40,-4.2],[-32,-5],[-23.5,-6.4],[-17.6,-7.8],[-11.7,-8.5],[-7.5,-7.8],[-4,-5.7],[-0.4,-2.1],[3.1,2.1],[6.7,6.4],[9.1,7.8],[15,8.5],[20.9,7.8],[23.9,5.9],[29.8,5],[40,4.2]],
  [[-40,-4.2],[-30,-5.4],[-23.5,-6.4],[-20.6,-8.5],[-17,-12.7],[-14,-15.9],[-12.9,-16.7],[-9.9,-14.9],[-6.9,-10.6],[-4,-5.7],[-1,-1.4],[2,2.8],[4.9,7.8],[7.9,12],[10.8,14.9],[13.2,15.9],[16.2,14.2],[19.1,10.6],[22.1,7.8],[26.8,5.9],[40,5]],
  [[-40,-4.5],[-30,-5.7],[-23.5,-6.8],[-20.6,-8.8],[-17,-13],[-14,-15.8],[-12.9,-16.3],[-9.9,-14.5],[-6.9,-10.3],[-4,-5.5],[-1,-1.2],[2,3],[4.9,8],[7.9,12],[10.8,14.8],[13.2,15.6],[16.2,14],[19.1,10.5],[22.1,7.5],[26.8,5.4],[40,4.2]],
  [[-40,-3.5],[-30,-5],[-23.5,-6],[-20.6,-8],[-17,-12],[-14,-15],[-12,-16],[-10,-15.5],[-7.5,-13],[-4,-6.5],[-1,-1.5],[2,3],[4.9,8],[7.9,13],[10.8,16.5],[13.8,17.7],[16.5,15.5],[18,12.7],[20.9,8.5],[23.9,5],[27,4],[40,3.5]],
  [[-40,-4.2],[-25.3,-5],[-20.6,-7.1],[-17,-11],[-14,-14.5],[-11.7,-15.6],[-8.7,-13.5],[-6.9,-11],[-4,-6],[-1,-1.5],[2,3],[4.9,8.5],[7.9,12.5],[10.8,15.5],[12.6,16.3],[16.2,13.5],[18,11.3],[20.9,8.5],[23.9,6.8],[30,5.5],[40,4.5]],
  [[-40,-5.7],[-30,-5.9],[-23.5,-7.4],[-20.6,-9.2],[-17,-12.7],[-13.5,-16.3],[-11.1,-17.7],[-8.2,-18.1],[-5.7,-14.2],[-3.4,-7.8],[-1,-2.1],[1.4,3.5],[3.7,9.9],[6.1,14.9],[7.9,17],[12,17.3],[15,15.6],[18,12],[20.9,9.2],[24.5,7.1],[29.8,6.4],[40,5.7]]
];

var expTa4 = [[-38.3,-9.2],[-37.1,-8.8],[-36,-10.2],[-34.7,-9.9],[-33.5,-9.9],[-32.3,-10.2],[-31.1,-10.6],[-29.9,-10.6],[-28.7,-10.9],[-27.5,-11.3],[-26.4,-11.3],[-25.3,-12],[-24.2,-12.7],[-22.9,-13.5],[-21.9,-14.2],[-20.7,-15.3],[-19.7,-15.9],[-18.3,-15.9],[-14.9,-17],[-13.2,-17.7],[-12,-18.1],[-11.1,-17.7],[-9.9,-16.3],[-8.7,-14.9],[-7.6,-13.5],[-6.6,-12],[-5.7,-9.9],[-4.9,-8.5],[-4,-6.4],[-2.8,-4.2],[-1.9,-2.8],[-1,0],[0.1,2.1],[1.1,3.5],[2.3,5.7],[3.4,7.1],[4.3,9.9],[5.5,12],[7,14.2],[8.2,16.3],[9.4,17.7],[10.5,18.4],[12,19.1],[14.1,19.1],[15.3,18.7],[16.5,18.4],[17.7,18.1],[18.9,17.7],[20.1,17],[21.3,16.3],[22.5,15.6],[23.7,14.9],[25.2,14.2],[27,13.9],[28.4,13.5],[29.9,12.7],[31.4,12.5],[32.9,12],[34.4,11.6],[35.6,11.3],[36.5,9.9]];
var simTa4 = [
  [[-40,-4.2],[-32,-5],[-23.5,-5.7],[-17.6,-7.1],[-11.7,-7.8],[-7.5,-6.8],[-4,-4.2],[-0.4,-0.3],[3.1,3.5],[6.7,7.1],[10.3,9.6],[13.2,9.2],[18,8.5],[23.9,7.4],[29.8,6.4],[40,6.8]],
  [[-40,-4.2],[-32,-4.7],[-23.5,-6.4],[-17.6,-8.2],[-12.3,-8.8],[-7.5,-7.4],[-4,-4.2],[-0.4,-0.7],[3.1,3.1],[6.7,7.1],[10.3,9.9],[13.2,10.6],[18,9.6],[23.9,7.8],[29.8,6.4],[40,5.7]],
  [[-40,-4.5],[-32,-5],[-23.5,-6.8],[-17.6,-8.5],[-13.5,-9.2],[-7.5,-7.5],[-4,-4.5],[-0.4,-0.8],[3.1,3],[6.7,7],[10.3,10],[13.5,11],[18,10],[23.9,8],[29.8,6.5],[40,5.5]],
  [[-40,-3.1],[-32,-4],[-23.5,-6],[-17.6,-8.5],[-12.3,-9.2],[-7.5,-8],[-4,-5],[-0.4,-1],[3.1,2.8],[6.7,7],[10.3,10],[13.5,11.3],[18,10],[23.9,7.5],[29.8,5.5],[40,4.2]],
  [[-40,-4.2],[-32,-5],[-23.5,-6.8],[-17.6,-9],[-11.7,-10.6],[-7.5,-8.5],[-4,-5],[-0.4,-0.5],[3.1,2.5],[6.7,6.5],[10.3,9.5],[13.5,10.6],[18,9.8],[23.9,8],[29.8,6.5],[40,5.5]],
  [[-40,-5],[-32,-5.7],[-23.5,-7.4],[-17.6,-10.2],[-11.7,-12],[-7.5,-10.6],[-4,-6.4],[-0.4,-1.4],[3.1,3.5],[6.7,8.5],[10.8,12],[13.8,13.5],[18,12],[23.9,9.2],[29.8,7.1],[40,5.9]]
];

var expTa5 = [[-32.4,-10],[-31.2,-10.2],[-30,-10],[-28.8,-10.2],[-27.6,-10.2],[-26.4,-10.3],[-25.2,-10.3],[-24,-10.3],[-22.8,-10.3],[-21.6,-10.3],[-20.4,-10.3],[-19.7,-10.5],[-18.5,-11],[-17.3,-11],[-16.1,-11.2],[-14.9,-11.3],[-13.7,-11.5],[-12.5,-11.8],[-11.3,-12],[-10.1,-12],[-8.9,-11.8],[-7.7,-11.5],[-6.5,-11.3],[-5.3,-11.3],[-4.1,-11],[-3,-10.5],[-1.6,-6.6],[-0.1,-3],[1.1,5.2],[2.5,7.5],[3.5,9],[4.3,9.9],[5.5,11],[6.7,11.8],[7.9,12.2],[9.1,12.4],[10.3,12.4],[11.5,12.3],[12.7,12.2],[13.9,12.2],[15.1,12],[16.3,12],[17.5,11.8],[18.7,11.8],[19.9,11.5],[21.1,11.3],[22.3,11.2],[23.5,11.2],[24.7,11],[25.9,11],[27.1,11],[28.3,11],[29.5,11],[30.7,11],[31.9,11],[33.1,11],[34.3,10.8],[35.5,10.8],[36.5,10.4],[37.4,8]];
var simTa5 = [
  [[-40,-6],[-20,-6.5],[-8,-7.5],[-4,-6],[-1,-2],[1,3],[4,6.5],[8,8],[20,7],[30,6.5],[40,6]],
  [[-40,-5],[-20,-5.5],[-8,-7],[-4,-5.5],[-1,-2],[1.5,2.5],[5,6.5],[9,8],[20,7],[30,6.5],[40,6]],
  [[-40,-5],[-20,-5.5],[-8,-7],[-4,-5.5],[-1,-2],[1.5,2.5],[5,6],[9,7.5],[20,6.5],[30,6],[40,5.5]],
  [[-40,-5],[-20,-5.5],[-8,-7],[-4,-5.5],[-1,-2],[1.5,2.5],[5,6],[9,7],[20,6],[30,5.5],[40,5]],
  [[-40,-5],[-20,-5.5],[-8,-6.5],[-4,-5],[0,-1],[3,3],[6,5],[10,6],[20,5],[30,4],[40,4.5]],
  [[-40,-4.5],[-20,-5],[-8,-6],[-4,-4.5],[0,-1],[3,2.5],[6,5],[10,6],[20,5.5],[30,5.5],[40,5.5]]
];

// panels[column][row] = [exp, sims]
var panels = [
  [[expAx1, simAx1], [expAx2, simAx2], [expAx3, simAx3], [expAx4, simAx4], [expAx5, simAx5]],
  [[expRa1, simRa1], [expRa2, simRa2], [expRa3, simRa3], [expRa4, simRa4], [expRa5, simRa5]],
  [[expTa1, simTa1], [expTa2, simTa2], [expTa3, simTa3], [expTa4, simTa4], [expTa5, simTa5]]
];

// ---------- layout ----------
var W = 3293, H = 1747;
var colX = [[101, 1037], [1216, 2146], [2331, 3261]];
var rowY = [
  [[50, 300], [400, 652], [753, 1004], [1105, 1357], [1454, 1570]],
  [[49, 300], [400, 652], [753, 1004], [1106, 1358], [1456, 1572]],
  [[38, 290], [391, 646], [747, 1000], [1104, 1358], [1456, 1572]]
];
var legendLeft = [28, 1139, 2245];
var yTitleX = [32, 1146, 2261];
var sansFont = '"Liberation Sans", Arial, Helvetica, sans-serif';
var serifFont = '"Liberation Serif", "Times New Roman", serif';
var axisColor = '#262626';
var markerR = 7;

var svg = d3.select('body').append('svg')
  .attr('width', W)
  .attr('height', H)
  .attr('viewBox', '0 0 ' + W + ' ' + H);
svg.append('rect').attr('width', W).attr('height', H).attr('fill', '#fff');

var defs = svg.append('defs');

panels.forEach(function(col, c) {
  col.forEach(function(panel, r) {
    var top = rowY[c][r][0], bottom = rowY[c][r][1];
    var x = d3.scaleLinear().domain([-40, 40]).range(colX[c]);
    var y = d3.scaleLinear().domain([-40, yMax[r]]).range([bottom, top]);
    var g = svg.append('g').classed('panel', true);
    var clipId = 'clip' + c + r;

    defs.append('clipPath').attr('id', clipId)
      .append('rect')
      .attr('x', colX[c][0]).attr('y', top)
      .attr('width', colX[c][1] - colX[c][0]).attr('height', bottom - top);

    // grid
    g.selectAll('line.gx')
      .data(xTicks.slice(1, -1))
      .enter().append('line')
      .attr('x1', function(d){ return x(d); }).attr('x2', function(d){ return x(d); })
      .attr('y1', top).attr('y2', bottom)
      .attr('stroke', '#dfdfdf').attr('stroke-width', 1.6);
    g.selectAll('line.gy')
      .data(yTicks.filter(function(d){ return d > -40 && d < yMax[r]; }))
      .enter().append('line')
      .attr('y1', function(d){ return y(d); }).attr('y2', function(d){ return y(d); })
      .attr('x1', colX[c][0]).attr('x2', colX[c][1])
      .attr('stroke', '#dfdfdf').attr('stroke-width', 1.6);

    var plot = g.append('g').attr('clip-path', 'url(#' + clipId + ')');

    // experiment markers
    plot.selectAll('circle')
      .data(panel[0])
      .enter().append('circle')
      .attr('cx', function(d){ return x(d[0]); })
      .attr('cy', function(d){ return y(d[1]); })
      .attr('r', markerR)
      .attr('fill', 'none')
      .attr('stroke', '#ff0000')
      .attr('stroke-width', 2);

    // simulation lines
    var line = d3.line()
      .x(function(d){ return x(d[0]); })
      .y(function(d){ return y(d[1]); })
      .curve(d3.curveMonotoneX);
    plot.selectAll('path.sim')
      .data(panel[1])
      .enter().append('path')
      .classed('sim', true)
      .attr('d', line)
      .attr('fill', 'none')
      .attr('stroke', function(d, i){ return seriesColors[i]; })
      .attr('stroke-width', 2.6);

    // axes (ticks inward, labels on left/bottom)
    var axB = g.append('g').attr('transform', 'translate(0,' + bottom + ')')
      .call(d3.axisBottom(x).tickValues(xTicks).tickSizeInner(-8).tickSizeOuter(0).tickPadding(19));
    var axT = g.append('g').attr('transform', 'translate(0,' + top + ')')
      .call(d3.axisTop(x).tickValues(xTicks).tickSizeInner(-8).tickSizeOuter(0).tickFormat(''));
    var axL = g.append('g').attr('transform', 'translate(' + colX[c][0] + ',0)')
      .call(d3.axisLeft(y).tickValues(yTicks).tickSizeInner(-8).tickSizeOuter(0).tickPadding(12));
    var axR = g.append('g').attr('transform', 'translate(' + colX[c][1] + ',0)')
      .call(d3.axisRight(y).tickValues(yTicks).tickSizeInner(-8).tickSizeOuter(0).tickFormat(''));
    [axB, axT, axL, axR].forEach(function(a){
      a.select('.domain').remove();
      a.selectAll('line').attr('stroke', axisColor).attr('stroke-width', 2);
      a.selectAll('text')
        .attr('font-family', sansFont)
        .attr('font-size', 24)
        .attr('fill', axisColor);
    });

    // box
    g.append('rect')
      .attr('x', colX[c][0]).attr('y', top)
      .attr('width', colX[c][1] - colX[c][0]).attr('height', bottom - top)
      .attr('fill', 'none')
      .attr('stroke', axisColor)
      .attr('stroke-width', 2.6);

    // height label
    g.append('text')
      .attr('x', x(-34.3))
      .attr('y', y(30))
      .attr('dominant-baseline', 'central')
      .attr('font-family', sansFont)
      .attr('font-style', 'italic')
      .attr('font-size', 27)
      .attr('fill', '#000')
      .text(heightLabels[r]);
  });

  // y title
  svg.append('text')
    .attr('transform', 'translate(' + yTitleX[c] + ',' + (c == 2 ? 872 : 878) + ') rotate(-90)')
    .attr('text-anchor', 'middle')
    .attr('dominant-baseline', 'central')
    .attr('font-family', serifFont)
    .attr('font-size', 34)
    .attr('fill', axisColor)
    .text(yTitles[c]);

  // x title
  svg.append('text')
    .attr('x', (colX[c][0] + colX[c][1]) / 2)
    .attr('y', 1633)
    .attr('text-anchor', 'middle')
    .attr('dominant-baseline', 'central')
    .attr('font-family', serifFont)
    .attr('font-size', 28)
    .attr('fill', axisColor)
    .text(xTitle);

  // legend
  var lg = svg.append('g').classed('legend', true);
  var lgTop = 1666, lgBottom = 1707, lgMid = (lgTop + lgBottom) / 2;
  lg.append('rect')
    .attr('x', legendLeft[c]).attr('y', lgTop)
    .attr('width', colX[c][1] - legendLeft[c]).attr('height', lgBottom - lgTop)
    .attr('fill', '#fff')
    .attr('stroke', axisColor)
    .attr('stroke-width', 2.6);
  var cursor = legendLeft[c] + 8;
  var items = ['Exp'].concat(seriesNames);
  items.forEach(function(name, i) {
    if (i == 0) {
      lg.append('circle')
        .attr('cx', cursor + 42).attr('cy', lgMid).attr('r', markerR)
        .attr('fill', 'none').attr('stroke', '#ff0000').attr('stroke-width', 2);
    } else {
      lg.append('line')
        .attr('x1', cursor).attr('x2', cursor + 84)
        .attr('y1', lgMid).attr('y2', lgMid)
        .attr('stroke', seriesColors[i - 1]).attr('stroke-width', 2.6);
    }
    var t = lg.append('text')
      .attr('x', cursor + 91)
      .attr('y', lgMid)
      .attr('dominant-baseline', 'central')
      .attr('font-family', sansFont)
      .attr('font-size', 26)
      .attr('fill', '#000')
      .text(name);
    cursor = cursor + 91 + t.node().getComputedTextLength() + 19;
  });
});
</script>
</body>
</html>
